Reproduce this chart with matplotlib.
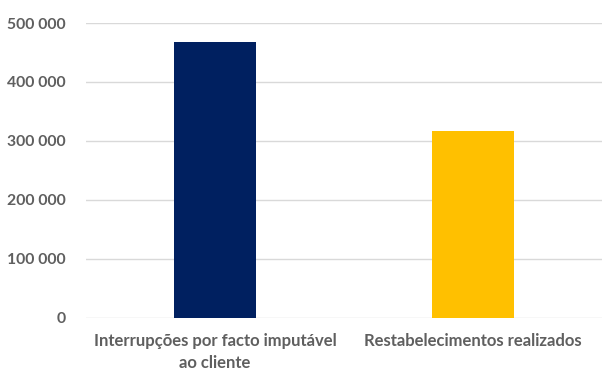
import matplotlib.pyplot as plt
from matplotlib.ticker import FuncFormatter

categories = ["Interrupções por facto imputável\nao cliente", "Restabelecimentos realizados"]
values = [468000, 317000]
colors = ["#002060", "#FFC000"]
yticks = [0, 100000, 200000, 300000, 400000, 500000]

plt.rcParams['font.family'] = ['Lato', 'DejaVu Sans']

fig = plt.figure(figsize=(6.02, 3.71), dpi=100)
ax = fig.add_axes([0.143, 0.143, 0.857, 0.795])

x = range(len(categories))
ax.bar(x, values, width=0.32, color=colors, zorder=3)

ax.set_xlim(-0.5, 1.5)
ax.set_ylim(0, 500000)
ax.set_yticks(yticks)
ax.yaxis.set_major_formatter(FuncFormatter(lambda v, p: f"{int(v):,}".replace(",", " ")))
ax.set_xticks(list(x))
ax.set_xticklabels(categories, linespacing=1.45)

ax.grid(axis='y', color='#D9D9D9', linewidth=1, zorder=0)
for s in ax.spines.values():
    s.set_visible(False)
ax.tick_params(axis='y', length=0, labelsize=11.3, labelcolor='#5F5F5F', pad=15)
ax.tick_params(axis='x', length=0, labelsize=12, labelcolor='#5F5F5F', pad=11)
for lbl in ax.get_xticklabels() + ax.get_yticklabels():
    lbl.set_fontweight('bold')

fig.savefig("out.png", dpi=100)
